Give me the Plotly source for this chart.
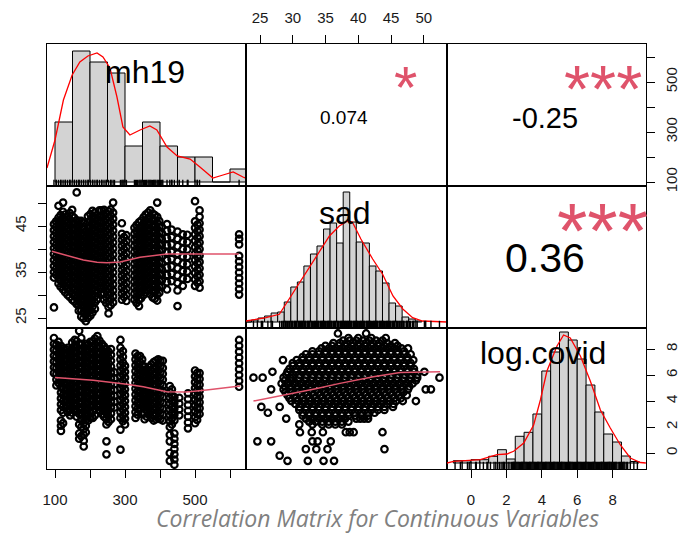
import plotly.graph_objects as go

# ---------------- data ----------------
var_names = ["mh19", "sad", "log.covid"]
cor_text = ["0.074", "-0.25", "0.36"]      # (mh19,sad) (mh19,log.covid) (sad,log.covid)
cor_stars = ["*", "***", "***"]

mh19_ticks = [100, 200, 300, 400, 500, 600]
mh19_ticktext = ["100", "", "300", "", "500", ""]
sad_ticks = [25, 30, 35, 40, 45, 50]
sad_ticktext_top = ["25", "30", "35", "40", "45", "50"]
sad_ticktext_left = ["25", "", "35", "", "45", ""]
lc_ticks = [0, 2, 4, 6, 8]
lc_ticktext = ["0", "2", "4", "6", "8"]

# histogram of mh19
mh19_edges = [100, 150, 200, 250, 300, 350, 400, 450, 500, 550, 600, 650]
mh19_counts = [120, 262, 240, 218, 72, 120, 72, 50, 50, 0, 26]
mh19_dens_x = [77, 100, 124, 149, 171, 194, 220, 237, 257, 277, 294, 314, 343, 371,
               391, 420, 449, 486, 514, 551, 580, 609, 637, 657]
mh19_dens_y = [28, 84, 164, 214, 240, 252, 258, 250, 228, 170, 110, 94, 104, 112,
               104, 70, 52, 46, 30, 8, 14, 20, 10, 4]

# histogram of sad
sad_edges = [22.7, 23.7, 24.7, 25.7, 26.7, 27.7, 28.7, 29.7, 30.7, 31.7, 32.7, 33.7,
             34.7, 35.7, 36.7, 37.7, 38.7, 39.7, 40.7, 41.7, 42.7, 43.7, 44.7, 45.7,
             46.7, 47.7, 48.7, 49.7]
sad_counts = [0, 2, 4, 6, 9, 10, 20, 35, 40, 56, 68, 76, 93, 99, 79, 130, 100, 80,
              79, 56, 51, 39, 19, 16, 5, 3, 1]
sad_dens_x = [22.86, 25.9, 27.95, 30.0, 32.0, 34.1, 35.6, 37.1, 38.4, 39.1, 40.4, 42.2,
              43.7, 45.3, 46.8, 48.3, 49.8, 53.55]
sad_dens_y = [1, 4.3, 7.7, 29, 49, 71, 86, 96, 101, 100, 83, 63, 48, 26, 13, 4.3, 1, 0]

# histogram of log.covid
lc_edges = [-1.0, -0.5, 0.0, 0.5, 1.0, 1.5, 2.0, 2.5, 3.0, 3.5, 4.0, 4.5, 5.0, 5.5,
            6.0, 6.5, 7.0, 7.5, 8.0, 8.5, 9.0, 9.5]
lc_counts = [2.3, 2.3, 3.3, 3.3, 6.7, 13.3, 4, 26.7, 30.7, 49, 92, 111, 131, 123, 104,
             78, 51, 29, 21, 7, 1.5]
lc_dens_x = [-1.36, -0.98, 0.53, 1.47, 2.03, 2.41, 2.98, 3.54, 3.92, 4.29, 4.86, 5.23,
             5.61, 6.18, 6.74, 7.31, 7.87, 8.44, 9.0, 9.57, 9.88]
lc_dens_y = [0, 1.7, 3.3, 8.3, 9, 11.7, 20, 38, 63, 92, 117, 128, 125, 107, 82, 53, 35,
             18, 5, 0.5, 0]

# scatter mh19 (x) vs sad (y): vertical stripes of observations
p21_mh19 = [97, 110, 123, 136, 149, 162, 175, 188, 201, 214, 227, 240, 253, 266, 291,
            304, 327, 340, 353, 366, 379, 392, 405, 420, 433, 450, 465, 478, 500, 513, 626,
            103, 116, 129, 142, 155, 168, 181, 194, 207, 220, 233, 246, 259, 297, 333,
            346, 359, 372, 385, 398, 507]
p21_sad = [
    [27.3, 33.8, 35.0, 36.3, 37.6, 38.9, 40.2, 41.5, 42.8, 44.1, 45.4],
    [32.5, 33.8, 35.1, 36.4, 37.7, 39.0, 40.3, 41.6, 42.9, 44.2, 45.5, 46.8, 49.4],
    [31.2, 32.5, 33.8, 35.1, 36.4, 37.7, 39.0, 40.3, 41.6, 42.9, 44.2, 45.5, 46.8, 48.1, 50.1],
    [30.0, 31.5, 32.8, 34.1, 35.4, 36.7, 38.0, 39.3, 40.6, 41.9, 43.2, 44.5, 45.8, 47.1],
    [29.0, 30.3, 31.6, 32.9, 34.2, 35.5, 36.8, 38.1, 39.4, 40.7, 42.0, 43.3, 44.6, 45.9, 47.2, 48.5],
    [28.0, 29.3, 30.6, 31.9, 33.2, 34.5, 35.8, 37.1, 38.4, 39.7, 41.0, 42.3, 43.6, 44.9, 46.2, 52.3],
    [25.3, 26.6, 27.9, 29.2, 30.5, 31.8, 33.1, 34.4, 35.7, 37.0, 38.3, 39.6, 40.9, 42.2, 43.5, 44.8, 46.1],
    [24.3, 25.6, 26.9, 28.2, 29.5, 30.8, 32.1, 33.4, 34.7, 36.0, 37.3, 38.6, 39.9, 41.2, 42.5, 43.8],
    [25.5, 26.8, 28.1, 29.4, 30.7, 32.0, 33.3, 34.6, 35.9, 37.2, 38.5, 39.8, 41.1, 42.4, 43.7, 45.0, 46.3, 47.6],
    [27.0, 28.4, 29.7, 31.0, 32.3, 33.6, 34.9, 36.2, 37.5, 38.8, 40.1, 41.4, 42.7, 44.0, 45.3, 46.6, 47.9],
    [31.5, 32.8, 34.1, 35.4, 36.7, 38.0, 39.3, 40.6, 41.9, 43.2, 44.5, 45.8, 47.1, 48.4],
    [29.0, 30.3, 31.6, 32.9, 34.2, 35.5, 36.8, 38.1, 39.4, 40.7, 42.0, 43.3, 44.6, 45.9, 47.2, 48.5],
    [26.0, 27.4, 28.7, 30.0, 31.3, 32.6, 33.9, 35.2, 36.5, 37.8, 39.1, 40.4, 41.7, 43.0, 44.3, 45.6, 46.9, 48.2],
    [28.4, 29.7, 31.0, 32.3, 33.6, 34.9, 36.2, 37.5, 38.8, 40.1, 41.4, 42.7, 44.0, 45.3, 46.6, 47.9, 50.1],
    [29.0, 30.3, 31.6, 32.9, 34.2, 35.5, 36.8, 38.1, 39.4, 40.7, 42.0, 43.3, 45.6],
    [28.7, 30.0, 31.3, 32.6, 33.9, 35.2, 36.5, 37.8, 39.1, 40.4, 41.7, 43.0],
    [29.0, 30.3, 31.6, 32.9, 34.2, 35.5, 36.8, 38.1, 39.4, 40.7, 42.0, 43.3, 44.6],
    [27.6, 28.9, 30.2, 31.5, 32.8, 34.1, 35.4, 36.7, 38.0, 39.3, 40.6, 41.9, 43.2, 44.5, 45.8],
    [30.0, 31.3, 32.6, 33.9, 35.2, 36.5, 37.8, 39.1, 40.4, 41.7, 43.0, 44.3, 45.6, 46.9],
    [31.0, 32.3, 33.6, 34.9, 36.2, 37.5, 38.8, 40.1, 41.4, 42.7, 44.0, 45.3, 46.6, 47.9],
    [29.5, 30.8, 32.1, 33.4, 34.7, 36.0, 37.3, 38.6, 39.9, 41.2, 42.5, 43.8, 45.1, 46.4, 47.7],
    [28.8, 30.1, 31.4, 32.7, 34.0, 35.3, 36.6, 37.9, 39.2, 40.5, 41.8, 43.1, 44.4, 45.7, 47.0, 50.1],
    [31.8, 33.1, 34.4, 35.7, 37.0, 38.3, 39.6, 40.9, 42.2, 43.5, 44.8],
    [31.2, 32.8, 34.4, 36.0, 37.6, 39.2, 40.8, 42.4, 44.0, 45.4],
    [33.0, 34.6, 36.2, 37.8, 39.4, 41.0, 42.6, 44.2],
    [27.6, 31.0, 32.6, 34.2, 35.8, 37.4, 39.0, 40.6, 42.2, 43.8],
    [32.0, 33.6, 35.2, 36.8, 38.4, 40.0, 41.6, 43.2],
    [33.5, 35.1, 36.7, 38.3, 39.9, 41.5, 43.1],
    [32.0, 33.4, 34.8, 36.2, 37.6, 39.0, 40.4, 41.8, 43.2, 44.6, 46.0, 50.4],
    [31.6, 33.0, 34.4, 35.8, 37.2, 38.6, 40.0, 41.4, 42.8, 44.2, 45.6, 47.0, 48.4],
    [30.1, 31.3, 32.5, 33.7, 34.9, 36.1, 37.3, 38.5, 41.0, 42.2, 43.2],
    [34.4, 35.7, 37.0, 38.3, 39.6, 40.9, 42.2, 43.5, 44.8, 46.0],
    [31.8, 33.1, 34.4, 35.7, 37.0, 38.3, 39.6, 40.9, 42.2, 43.5, 44.8, 46.1, 47.4],
    [30.6, 31.9, 33.2, 34.5, 35.8, 37.1, 38.4, 39.7, 41.0, 42.3, 43.6, 44.9, 46.2, 47.5],
    [29.6, 30.9, 32.2, 33.5, 34.8, 36.1, 37.4, 38.7, 40.0, 41.3, 42.6, 43.9, 45.2, 46.5, 47.8],
    [28.6, 29.9, 31.2, 32.5, 33.8, 35.1, 36.4, 37.7, 39.0, 40.3, 41.6, 42.9, 44.2, 45.5, 46.8],
    [26.6, 27.9, 29.2, 30.5, 31.8, 33.1, 34.4, 35.7, 37.0, 38.3, 39.6, 40.9, 42.2, 43.5, 44.8, 46.1],
    [24.9, 26.2, 27.5, 28.8, 30.1, 31.4, 32.7, 34.0, 35.3, 36.6, 37.9, 39.2, 40.5, 41.8, 43.1, 44.4, 45.7],
    [25.0, 26.3, 27.6, 28.9, 30.2, 31.5, 32.8, 34.1, 35.4, 36.7, 38.0, 39.3, 40.6, 41.9, 43.2, 44.5, 45.8, 47.1],
    [26.2, 27.5, 28.8, 30.1, 31.4, 32.7, 34.0, 35.3, 36.6, 37.9, 39.2, 40.5, 41.8, 43.1, 44.4, 45.7, 47.0, 48.3],
    [29.0, 30.4, 31.7, 33.0, 34.3, 35.6, 36.9, 38.2, 39.5, 40.8, 42.1, 43.4, 44.7, 46.0, 47.3],
    [30.2, 31.5, 32.8, 34.1, 35.4, 36.7, 38.0, 39.3, 40.6, 41.9, 43.2, 44.5, 45.8, 47.1, 48.4],
    [28.3, 29.6, 30.9, 32.2, 33.5, 34.8, 36.1, 37.4, 38.7, 40.0, 41.3, 42.6, 43.9, 45.2, 46.5, 47.8],
    [27.8, 29.1, 30.4, 31.7, 33.0, 34.3, 35.6, 36.9, 38.2, 39.5, 40.8, 42.1, 43.4, 44.7, 46.0, 47.3, 48.6],
    [29.6, 30.9, 32.2, 33.5, 34.8, 36.1, 37.4, 38.7, 40.0, 41.3, 42.6],
    [28.3, 29.6, 30.9, 32.2, 33.5, 34.8, 36.1, 37.4, 38.7, 40.0, 41.3, 42.6, 43.9, 45.2],
    [29.3, 30.6, 31.9, 33.2, 34.5, 35.8, 37.1, 38.4, 39.7, 41.0, 42.3, 43.6, 44.9, 46.2],
    [30.6, 31.9, 33.2, 34.5, 35.8, 37.1, 38.4, 39.7, 41.0, 42.3, 43.6, 44.9, 46.2, 47.5],
    [30.2, 31.5, 32.8, 34.1, 35.4, 36.7, 38.0, 39.3, 40.6, 41.9, 43.2, 44.5, 45.8, 47.1, 48.4],
    [29.2, 30.5, 31.8, 33.1, 34.4, 35.7, 37.0, 38.3, 39.6, 40.9, 42.2, 43.5, 44.8, 46.1, 47.4],
    [30.5, 31.8, 33.1, 34.4, 35.7, 37.0, 38.3, 39.6, 40.9, 42.2, 43.5, 44.8, 46.1],
    [32.7, 34.1, 35.5, 36.9, 38.3, 39.7, 41.1, 42.5, 43.9, 45.3],
]
p21_loess_x = [91, 140, 181, 220, 248, 286, 343, 419, 514, 625]
p21_loess_y = [39.5, 38.5, 37.6, 37.1, 37.0, 37.2, 38.2, 38.9, 38.9, 38.9]

# scatter mh19 (x) vs log.covid (y)
p31_mh19 = [97, 104, 117, 130, 143, 156, 169, 182, 195, 208, 221, 234, 247, 260, 270,
            287, 300, 330, 343, 356, 369, 382, 395, 408, 428, 441, 455, 480, 500, 513, 626,
            110, 123, 136, 149, 162, 175, 188, 201, 214, 227, 240, 253, 294, 336, 349,
            362, 375, 388, 401, 434, 506]
p31_lc = [
    [6.15, 6.6, 7.05, 7.5, 7.95, 8.4, 8.85],
    [5.2, 5.65, 6.1, 6.55, 7.0, 7.45, 7.9, 8.35],
    [1.7, 2.1, 2.5, 3.3, 3.75, 4.2, 4.65, 5.1, 5.55, 6.0, 6.45, 6.9, 7.35, 7.8, 8.25],
    [3.5, 3.95, 4.4, 4.85, 5.3, 5.75, 6.2, 6.65, 7.1, 7.55, 8.0],
    [2.9, 3.35, 3.8, 4.25, 4.7, 5.15, 5.6, 6.05, 6.5, 6.95, 7.4, 7.85],
    [3.3, 3.75, 4.2, 4.65, 5.1, 5.55, 6.0, 6.45, 6.9, 7.35, 7.8, 8.25, 8.7],
    [1.1, 1.5, 2.2, 3.0, 3.45, 3.9, 4.35, 4.8, 5.25, 5.7, 6.15, 6.6, 7.05, 7.5, 7.95, 8.4, 9.4],
    [0.5, 0.95, 1.4, 1.85, 2.3, 2.75, 3.2, 3.65, 4.1, 4.55, 5.0, 5.45, 5.9, 6.35, 6.8, 7.25, 7.7, 8.15],
    [2.5, 2.95, 3.4, 3.85, 4.3, 4.75, 5.2, 5.65, 6.1, 6.55, 7.0, 7.45, 7.9, 8.35],
    [2.7, 3.2, 3.65, 4.1, 4.55, 5.0, 5.45, 5.9, 6.35, 6.8, 7.25, 7.7, 8.15, 8.6],
    [3.6, 4.05, 4.5, 4.95, 5.4, 5.85, 6.3, 6.75, 7.2, 7.65, 8.1, 8.55, 9.0],
    [3.0, 3.45, 3.9, 4.35, 4.8, 5.25, 5.7, 6.15, 6.6, 7.05, 7.5, 7.95, 8.4],
    [-0.1, 0.9, 2.2, 2.6, 3.05, 3.5, 3.95, 4.4, 4.85, 5.3, 5.75, 6.2, 6.65, 7.1, 7.55, 8.0],
    [2.6, 3.05, 3.5, 3.95, 4.4, 4.85, 5.3, 5.75, 6.2, 6.65, 7.1, 7.55, 8.0],
    [3.5, 3.95, 4.4, 4.85, 5.3, 5.75, 6.2],
    [0.26, 1.8, 2.7, 3.15, 3.6, 4.05, 4.5, 4.95, 5.4, 5.85, 6.3, 6.75, 7.2, 7.65, 8.1, 8.7],
    [2.2, 2.65, 3.1, 3.55, 4.0, 4.45, 4.9, 5.35, 5.8, 6.25, 6.7],
    [2.7, 3.15, 3.6, 4.05, 4.5, 4.95, 5.4, 5.85, 6.3, 6.75, 7.2, 7.65],
    [3.4, 3.85, 4.3, 4.75, 5.2, 5.65, 6.1, 6.55, 7.0, 7.45],
    [2.6, 3.05, 3.5, 3.95, 4.4, 4.85, 5.3, 5.75, 6.2, 6.65],
    [3.0, 3.45, 3.9, 4.35, 4.8, 5.25, 5.7, 6.15, 6.6],
    [2.5, 2.95, 3.4, 3.85, 4.3, 4.75, 5.2, 5.65, 6.1, 6.55, 7.0],
    [2.7, 3.15, 3.6, 4.05, 4.5, 4.95, 5.4, 5.85, 6.3, 6.75, 7.2],
    [2.5, 2.95, 3.4, 3.85, 4.3, 4.75, 5.2, 5.65, 6.1, 6.55, 7.1],
    [-0.6, 0.0, 0.9, 1.4, 2.0, 2.45, 2.9, 3.35, 3.8, 4.25, 4.7, 5.15],
    [-0.9, -0.5, -0.1, 0.3, 0.7, 1.1, 1.5, 2.5, 2.95, 3.4, 3.85, 4.3],
    [2.9, 3.35, 3.8, 4.25],
    [1.9, 2.35, 2.8, 3.25, 3.7, 4.15, 4.6],
    [2.3, 2.75, 3.2, 3.65, 4.1, 4.55, 5.0, 5.45, 5.9, 6.35],
    [3.0, 3.45, 3.9, 4.35, 4.8, 5.25, 5.7, 6.15],
    [5.1, 5.55, 6.0, 6.45, 6.9, 7.35, 7.8, 8.25, 8.7],
    [5.4, 5.85, 6.3, 6.75, 7.2, 7.65, 8.1, 8.55],
    [2.3, 3.1, 3.55, 4.0, 4.45, 4.9, 5.35, 5.8, 6.25, 6.7, 7.15, 7.6, 8.05],
    [3.15, 3.6, 4.05, 4.5, 4.95, 5.4, 5.85, 6.3, 6.75, 7.2, 7.65, 8.1],
    [3.1, 3.55, 4.0, 4.45, 4.9, 5.35, 5.8, 6.25, 6.7, 7.15, 7.6, 8.05, 8.5],
    [2.8, 3.2, 3.65, 4.1, 4.55, 5.0, 5.45, 5.9, 6.35, 6.8, 7.25, 7.7, 8.15, 8.6],
    [1.3, 2.0, 2.55, 3.0, 3.45, 3.9, 4.35, 4.8, 5.25, 5.7, 6.15, 6.6, 7.05, 7.5, 7.95, 8.4, 8.85],
    [1.6, 2.1, 2.55, 3.0, 3.45, 3.9, 4.35, 4.8, 5.25, 5.7, 6.15, 6.6, 7.05, 7.5, 7.95, 8.4],
    [2.7, 3.15, 3.6, 4.05, 4.5, 4.95, 5.4, 5.85, 6.3, 6.75, 7.2, 7.65, 8.1, 8.55],
    [2.9, 3.4, 3.85, 4.3, 4.75, 5.2, 5.65, 6.1, 6.55, 7.0, 7.45, 7.9, 8.35, 8.8],
    [3.25, 3.7, 4.15, 4.6, 5.05, 5.5, 5.95, 6.4, 6.85, 7.3, 7.75, 8.2, 8.65],
    [2.8, 3.25, 3.7, 4.15, 4.6, 5.05, 5.5, 5.95, 6.4, 6.85, 7.3, 7.75, 8.2],
    [2.4, 2.85, 3.3, 3.75, 4.2, 4.65, 5.1, 5.55, 6.0, 6.45, 6.9, 7.35, 7.8],
    [2.45, 2.9, 3.35, 3.8, 4.25, 4.7, 5.15, 5.6, 6.05, 6.5, 6.95, 7.4, 7.85],
    [2.95, 3.4, 3.85, 4.3, 4.75, 5.2, 5.65, 6.1, 6.55, 7.0, 7.45],
    [3.0, 3.6, 4.05, 4.5, 4.95, 5.4, 5.85, 6.3, 6.75, 7.2],
    [2.8, 3.25, 3.7, 4.15, 4.6, 5.05, 5.5, 5.95, 6.4],
    [2.7, 3.2, 3.65, 4.1, 4.55, 5.0, 5.45, 5.9, 6.35, 6.8],
    [2.6, 3.05, 3.5, 3.95, 4.4, 4.85, 5.3, 5.75, 6.2, 6.65, 7.1],
    [2.6, 3.05, 3.5, 3.95, 4.4, 4.85, 5.3, 5.75, 6.2, 6.65, 7.1],
    [2.2, 2.65, 3.1, 3.55, 4.0, 4.45, 4.9],
    [2.55, 3.0, 3.45, 3.9, 4.35, 4.8, 5.25, 5.7, 6.15],
]
p31_loess_x = [100, 209, 305, 352, 419, 476, 533, 629]
p31_loess_y = [5.82, 5.6, 5.3, 5.1, 4.72, 4.69, 4.85, 5.15]

# scatter sad (x) vs log.covid (y): rows of observations
p32_lc = [9.2, 8.85, 8.45, 8.05, 7.6, 7.15, 6.7, 6.25, 5.8, 5.35, 4.9, 4.45, 4.0, 3.55,
          3.1, 2.65, 2.2, 1.6, 0.9, 0.3, -0.2, -0.6,
          8.65, 8.25, 7.82, 7.38, 6.92, 6.48, 6.02, 5.58, 5.12, 4.68, 4.22, 3.78, 3.32,
          2.88, 2.42]
p32_sad = [
    [36.9, 41.2],
    [38.5, 40.0, 42.0, 44.2],
    [36.2, 37.2, 38.2, 39.2, 40.2, 41.2, 42.2, 43.2, 44.4, 45.6],
    [34.4, 35.5, 36.5, 37.5, 38.5, 39.5, 40.5, 41.5, 42.5, 43.5, 44.5, 45.5, 46.6, 47.6],
    [32.0, 33.0, 34.0, 35.0, 36.0, 37.0, 38.0, 39.0, 40.0, 41.0, 42.0, 43.0, 44.0, 45.0, 46.0, 47.0, 48.0],
    [28.5, 30.6, 31.5, 32.5, 33.5, 34.5, 35.5, 36.5, 37.5, 38.5, 39.5, 40.5, 41.5, 42.5, 43.5, 44.5, 45.5, 46.5, 47.5, 48.4],
    [30.0, 31.0, 32.0, 33.0, 34.0, 35.0, 36.0, 37.0, 38.0, 39.0, 40.0, 41.0, 42.0, 43.0, 44.0, 45.0, 46.0, 47.0, 48.0],
    [26.9, 29.2, 30.5, 31.5, 32.5, 33.5, 34.5, 35.5, 36.5, 37.5, 38.5, 39.5, 40.5, 41.5, 42.5, 43.5, 44.5, 45.5, 46.5, 47.5, 48.5, 50.1],
    [24.0, 25.4, 28.6, 29.6, 30.0, 31.0, 32.0, 33.0, 34.0, 35.0, 36.0, 37.0, 38.0, 39.0, 40.0, 41.0, 42.0, 43.0, 44.0, 45.0, 46.0, 47.0, 48.0, 49.0, 52.4],
    [28.3, 29.3, 30.3, 31.3, 32.3, 33.3, 34.3, 35.3, 36.3, 37.3, 38.3, 39.3, 40.3, 41.3, 42.3, 43.3, 44.3, 45.3, 46.3, 47.3, 48.3],
    [26.7, 28.6, 29.6, 30.6, 31.6, 32.6, 33.6, 34.6, 35.6, 36.6, 37.6, 38.6, 39.6, 40.6, 41.6, 42.6, 43.6, 44.6, 45.6, 46.6, 47.6, 50.3, 51.1],
    [29.2, 30.2, 31.2, 32.2, 33.2, 34.2, 35.2, 36.2, 37.2, 38.2, 39.2, 40.2, 41.2, 42.2, 43.2, 44.2, 45.2, 46.2, 47.4],
    [29.8, 30.8, 31.8, 32.8, 33.8, 34.8, 35.8, 36.8, 37.8, 38.8, 39.8, 40.8, 41.8, 42.8, 43.8, 44.8, 45.8, 46.8, 48.8],
    [25.2, 28.0, 31.0, 32.0, 33.0, 34.0, 35.0, 36.0, 37.0, 38.0, 39.0, 40.0, 41.0, 42.0, 43.0, 44.0, 45.3],
    [26.2, 31.5, 32.5, 33.5, 34.5, 35.5, 36.5, 37.5, 38.5, 39.5, 40.5, 41.5, 42.5],
    [29.0, 32.0, 33.0, 34.0, 35.0, 36.0, 37.0, 38.0, 39.7, 40.3, 40.9, 41.5],
    [31.0, 33.0, 34.5, 35.5, 36.5, 37.5],
    [31.1, 32.9, 34.6, 38.1, 38.7, 39.3, 43.7],
    [24.6, 26.7, 33.0, 33.8, 35.8],
    [32.0, 33.6, 35.3, 44.0],
    [28.0],
    [29.2, 32.3, 34.7, 36.3],
    [37.7, 38.7, 39.7, 40.7, 41.7, 42.7, 43.7],
    [35.0, 36.0, 37.0, 38.0, 39.0, 40.0, 41.0, 42.0, 43.0, 44.0, 45.0, 46.0],
    [33.0, 34.0, 35.0, 36.0, 37.0, 38.0, 39.0, 40.0, 41.0, 42.0, 43.0, 44.0, 45.0, 46.0, 47.0],
    [31.5, 32.5, 33.5, 34.5, 35.5, 36.5, 37.5, 38.5, 39.5, 40.5, 41.5, 42.5, 43.5, 44.5, 45.5, 46.5, 47.5],
    [30.0, 31.0, 32.0, 33.0, 34.0, 35.0, 36.0, 37.0, 38.0, 39.0, 40.0, 41.0, 42.0, 43.0, 44.0, 45.0, 46.0, 47.0, 48.0],
    [29.5, 30.5, 31.5, 32.5, 33.5, 34.5, 35.5, 36.5, 37.5, 38.5, 39.5, 40.5, 41.5, 42.5, 43.5, 44.5, 45.5, 46.5, 47.5, 48.5],
    [29.0, 30.0, 31.0, 32.0, 33.0, 34.0, 35.0, 36.0, 37.0, 38.0, 39.0, 40.0, 41.0, 42.0, 43.0, 44.0, 45.0, 46.0, 47.0, 48.0, 49.0],
    [28.8, 29.8, 30.8, 31.8, 32.8, 33.8, 34.8, 35.8, 36.8, 37.8, 38.8, 39.8, 40.8, 41.8, 42.8, 43.8, 44.8, 45.8, 46.8, 47.8, 48.8],
    [28.8, 29.8, 30.8, 31.8, 32.8, 33.8, 34.8, 35.8, 36.8, 37.8, 38.8, 39.8, 40.8, 41.8, 42.8, 43.8, 44.8, 45.8, 46.8, 47.8],
    [28.9, 29.9, 30.9, 31.9, 32.9, 33.9, 34.9, 35.9, 36.9, 37.9, 38.9, 39.9, 40.9, 41.9, 42.9, 43.9, 44.9, 45.9, 46.9],
    [29.5, 30.5, 31.5, 32.5, 33.5, 34.5, 35.5, 36.5, 37.5, 38.5, 39.5, 40.5, 41.5, 42.5, 43.5, 44.5, 45.5, 46.5],
    [30.4, 31.4, 32.4, 33.4, 34.4, 35.4, 36.4, 37.4, 38.4, 39.4, 40.4, 41.4, 42.4, 43.4, 44.4, 45.4],
    [31.0, 32.0, 33.0, 34.0, 35.0, 36.0, 37.0, 38.0, 39.0, 40.0, 41.0, 42.0, 43.0, 44.0],
    [31.5, 32.5, 33.5, 34.5, 35.5, 36.5, 37.5, 38.5, 39.5, 40.5, 41.5],
    [32.5, 33.5, 34.5, 35.5, 36.5, 37.5, 38.5],
]
p32_loess_x = [24.0, 29.6, 33.5, 37.2, 42.3, 46.4, 52.5]
p32_loess_y = [4.0, 4.54, 4.95, 5.36, 5.87, 6.2, 6.25]

# ---------------- layout geometry ----------------
W, H = 680, 533
FONT = "Liberation Sans, Arial, sans-serif"
COLS = [(47, 246), (246, 447), (447, 646)]
ROWS = [(44, 186), (186, 328), (328, 469)]
X_RANGE = [[77.1, 645.7], [22.86, 53.55], [-1.356, 9.887]]
Y_RANGE = [[[-8, 276], [0, 1], [84, 652]],
           [[22.83, 53.7], [-6, 136], [0, 1]],
           [[-1.23, 9.62], [-1.23, 9.62], [-6, 135]]]
LOESS = "#DF536B"
STAR = "#DF536B"


def ax_id(k, letter):
    return letter if k == 1 else f"{letter}{k}"


def flatten_cols(xs, ylists):
    ox, oy = [], []
    for x, ys in zip(xs, ylists):
        for y in ys:
            ox.append(x)
            oy.append(y)
    return ox, oy


def flatten_rows(ys, xlists):
    ox, oy = [], []
    for y, xs in zip(ys, xlists):
        for x in xs:
            ox.append(x)
            oy.append(y)
    return ox, oy


fig = go.Figure()
layout = dict(width=W, height=H, margin=dict(l=0, r=0, t=0, b=0),
              paper_bgcolor="white", plot_bgcolor="white", showlegend=False,
              template="none")

base_axis = dict(showgrid=False, zeroline=False, showline=True, mirror=True,
                 linecolor="black", linewidth=1, ticks="", showticklabels=False,
                 fixedrange=True)
tick_style = dict(ticks="outside", ticklen=8, tickwidth=1, tickcolor="black",
                  showticklabels=True, ticklabelstandoff=6,
                  tickfont=dict(family=FONT, size=15, color="#1a1a1a"))

for r in range(3):
    for c in range(3):
        k = r * 3 + c + 1
        xa = dict(base_axis, domain=[COLS[c][0] / W, COLS[c][1] / W],
                  anchor=ax_id(k, "y"), range=X_RANGE[c] if not (c == 2 and r < 2) else [0, 1])
        ya = dict(base_axis, domain=[1 - ROWS[r][1] / H, 1 - ROWS[r][0] / H],
                  anchor=ax_id(k, "x"), range=Y_RANGE[r][c])
        layout["xaxis" if k == 1 else f"xaxis{k}"] = xa
        layout["yaxis" if k == 1 else f"yaxis{k}"] = ya

# axes carrying tick labels
layout["xaxis7"].update(tick_style, tickvals=mh19_ticks, ticktext=mh19_ticktext)
layout["xaxis9"].update(tick_style, tickvals=lc_ticks, ticktext=lc_ticktext)
layout["xaxis2"].update(tick_style, side="top", tickvals=sad_ticks, ticktext=sad_ticktext_top)
layout["yaxis4"].update(tick_style, side="left", tickvals=sad_ticks,
                        ticktext=sad_ticktext_left, tickangle=-90)
layout["yaxis3"].update(tick_style, side="right", tickvals=mh19_ticks,
                        ticktext=mh19_ticktext, tickangle=-90, ticklabelstandoff=4)
layout["yaxis10"] = dict(tick_style, overlaying="y9", anchor="x9", side="right",
                         range=[-1.23, 9.62], tickvals=lc_ticks, ticktext=lc_ticktext,
                         tickangle=-90, showgrid=False, zeroline=False, showline=False,
                         fixedrange=True, ticklabelstandoff=4)
for key in ("xaxis7", "xaxis9"):
    layout[key]["ticklabelstandoff"] = 9

point_marker = dict(symbol="circle-open", size=6.5, color="black", line=dict(width=2.2))
rug_marker = dict(symbol="line-ns-open", size=6, color="black",
                  line=dict(width=1.4, color="black"))


def add_hist(k, edges, counts, dx, dy, rug_vals, rug_y, rug_axis=None):
    centers = [(a + b) / 2 for a, b in zip(edges[:-1], edges[1:])]
    widths = [b - a for a, b in zip(edges[:-1], edges[1:])]
    fig.add_trace(go.Bar(x=centers, y=counts, width=widths,
                         marker=dict(color="#D3D3D3", line=dict(color="black", width=1)),
                         xaxis=ax_id(k, "x"), yaxis=ax_id(k, "y"), hoverinfo="skip"))
    fig.add_trace(go.Scatter(x=dx, y=dy, mode="lines", line=dict(color="red", width=1.3),
                             xaxis=ax_id(k, "x"), yaxis=ax_id(k, "y")))
    fig.add_trace(go.Scatter(x=rug_vals, y=[rug_y] * len(rug_vals), mode="markers",
                             marker=rug_marker, xaxis=ax_id(k, "x"),
                             yaxis=rug_axis or ax_id(k, "y")))


def add_scatter(k, xs, ys, lx, ly):
    fig.add_trace(go.Scatter(x=xs, y=ys, mode="markers", marker=point_marker,
                             xaxis=ax_id(k, "x"), yaxis=ax_id(k, "y")))
    fig.add_trace(go.Scatter(x=lx, y=ly, mode="lines", line=dict(color=LOESS, width=1.5),
                             xaxis=ax_id(k, "x"), yaxis=ax_id(k, "y")))


x21, y21 = flatten_cols(p21_mh19, p21_sad)
x31, y31 = flatten_cols(p31_mh19, p31_lc)
x32, y32 = flatten_rows(p32_lc, p32_sad)

mh19_rug = sorted(set(p21_mh19 + p31_mh19))
sad_rug = sorted(set(x32))
lc_rug = sorted(set(y31 + y32))

add_hist(1, mh19_edges, mh19_counts, mh19_dens_x, mh19_dens_y, mh19_rug, -4)
add_hist(5, sad_edges, sad_counts, sad_dens_x, sad_dens_y, sad_rug, -3)
add_hist(9, lc_edges, lc_counts, lc_dens_x, lc_dens_y, lc_rug, -1.0, rug_axis="y10")

add_scatter(4, x21, y21, p21_loess_x, p21_loess_y)
add_scatter(7, x31, y31, p31_loess_x, p31_loess_y)
add_scatter(8, x32, y32, p32_loess_x, p32_loess_y)

# empty traces so that the text-only panels (upper triangle) get drawn
for k in (2, 3, 6):
    fig.add_trace(go.Scatter(x=[], y=[], mode="markers", xaxis=ax_id(k, "x"),
                             yaxis=ax_id(k, "y"), hoverinfo="skip"))

annotations = []


def panel_text(k, x, y, text, size, color="black"):
    annotations.append(dict(xref=f"{ax_id(k, 'x')} domain", yref=f"{ax_id(k, 'y')} domain",
                            x=x, y=y, text=text, showarrow=False, xanchor="center",
                            yanchor="middle", font=dict(family=FONT, size=size, color=color)))


# variable names on the diagonal
panel_text(1, 0.49, 0.80, var_names[0], 32)
panel_text(5, 0.495, 0.81, var_names[1], 32)
panel_text(9, 0.482, 0.825, var_names[2], 32)
# correlations
panel_text(2, 0.49, 0.479, cor_text[0], 19)
panel_text(3, 0.492, 0.479, cor_text[1], 29)
panel_text(6, 0.492, 0.493, cor_text[2], 41)
# significance stars
panel_text(2, 0.796, 0.695, cor_stars[0], 60, STAR)
panel_text(3, 0.784, 0.69, cor_stars[1], 67, STAR)
panel_text(6, 0.779, 0.683, cor_stars[2], 78, STAR)

annotations.append(dict(xref="paper", yref="paper", x=377 / W, y=1 - 518 / H,
                        text="<i>Correlation Matrix for Continuous Variables</i>",
                        showarrow=False, xanchor="center", yanchor="middle",
                        font=dict(family="Open Sans", size=23, color="#808080")))
layout["annotations"] = annotations

fig.update_layout(**layout)
fig.write_html("out.html")
